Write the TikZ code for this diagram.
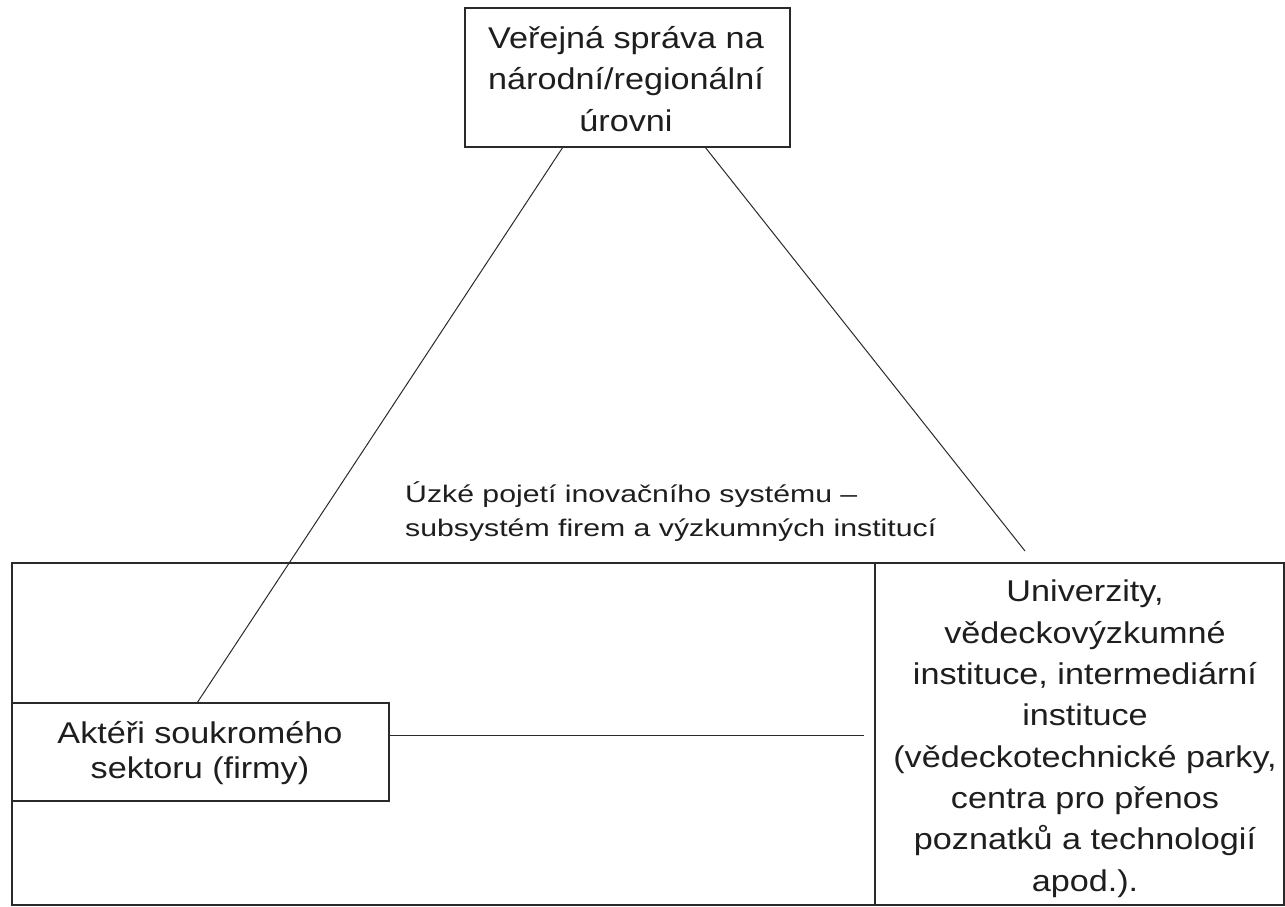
\documentclass[tikz,border=0pt]{standalone}
\usepackage{fontspec}
\setmainfont{Liberation Sans}
\newfontfamily\boxfont{Liberation Sans}[FakeStretch=1.14]
\newfontfamily\labfont{Liberation Sans}[FakeStretch=1.26]
\definecolor{ink}{HTML}{1E1E1E}
\definecolor{edge}{HTML}{2A2A2A}
\begin{document}
\begin{tikzpicture}[x=1pt,y=-1pt,
  boxstyle/.style={draw=edge, line width=1.1pt, rectangle, inner sep=0pt},
  boxtext/.style={text=ink, align=center, inner sep=0pt, anchor=base,
    font=\boxfont\fontsize{30}{41.3}\selectfont},
  firmtext/.style={text=ink, align=center, inner sep=0pt, anchor=base,
    font=\boxfont\fontsize{30}{35}\selectfont},
  labtext/.style={text=ink, align=left, inner sep=0pt, anchor=base west,
    font=\labfont\fontsize{24}{34}\selectfont},
  link/.style={draw=edge, line width=1pt}]
\useasboundingbox (0,0) rectangle (1285,906);
% outer subsystem frame
\node[boxstyle, minimum width=1272pt, minimum height=342pt] (sys) at (648,734) {};
% boxes
\node[boxstyle, minimum width=325pt, minimum height=139pt] (gov) at (627.5,77.5) {};
\node[boxstyle, minimum width=377pt, minimum height=98pt, fill=white] (firms) at (200.5,752) {};
\node[boxstyle, minimum width=409pt, minimum height=342pt] (univ) at (1079.5,734) {};
% texts (anchored at the baseline of the last line)
\node[boxtext] (govtext) at (626,131) {Veřejná správa na\\národní/regionální\\úrovni};
\node[firmtext] (firmstext) at (200,778) {Aktéři soukromého\\sektoru (firmy)};
\node[boxtext] (univtext) at (1085,891) {Univerzity,\\vědeckovýzkumné\\instituce, intermediární\\instituce\\(vědeckotechnické parky,\\centra pro přenos\\poznatků a technologií\\apod.).};
\node[labtext] (lab) at (405,536) {Úzké pojetí inovačního systému –\\subsystém firem a výzkumných institucí};
% connectors
\coordinate (gl) at (563,147);
\coordinate (gr) at (705,147);
\coordinate (fl) at (197,703);
\coordinate (rend) at (1025,551);
\coordinate (fr) at (389,735);
\coordinate (hend) at (864,735);
\draw[link] (gl) -- (fl);
\draw[link] (gr) -- (rend);
\draw[link] (fr) -- (hend);
\end{tikzpicture}
\end{document}
